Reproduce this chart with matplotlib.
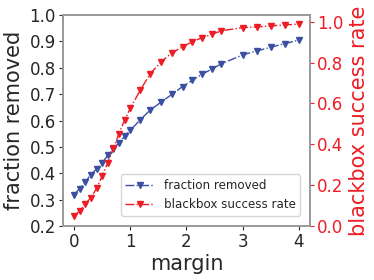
import matplotlib
matplotlib.use("Agg")
import matplotlib.pyplot as plt

# margin values (x)
margin = [0.0, 0.1, 0.2, 0.3, 0.4, 0.5, 0.6, 0.7, 0.8, 0.9, 1.0,
          1.18, 1.35, 1.55, 1.74, 1.93, 2.1, 2.27, 2.45, 2.62,
          3.0, 3.25, 3.5, 3.75, 4.0]

fraction_removed = [0.319, 0.342, 0.367, 0.395, 0.416, 0.44, 0.468, 0.493, 0.515, 0.54, 0.563,
                    0.603, 0.639, 0.67, 0.699, 0.729, 0.752, 0.775, 0.795, 0.815,
                    0.849, 0.864, 0.878, 0.892, 0.905]

blackbox_success = [0.049, 0.073, 0.108, 0.139, 0.184, 0.245, 0.31, 0.38, 0.453, 0.519, 0.576,
                    0.666, 0.744, 0.804, 0.848, 0.877, 0.902, 0.922, 0.939, 0.956,
                    0.972, 0.975, 0.98, 0.985, 0.989]

BLUE = "#3b4fa3"
RED = "#ee1c25"
TEXT = "#262626"

plt.rcParams["font.family"] = "DejaVu Sans"

fig = plt.figure(figsize=(3.74, 2.80), dpi=100)
ax = fig.add_axes([0.168, 0.193, 0.661, 0.753])
ax2 = ax.twinx()

l1, = ax.plot(margin, fraction_removed, linestyle="-.", marker="v", color=BLUE,
              markersize=4.8, linewidth=1.0, label="fraction removed")
l2, = ax2.plot(margin, blackbox_success, linestyle="-.", marker="v", color=RED,
               markersize=4.8, linewidth=1.0, label="blackbox success rate")

ax.set_xlim(-0.2, 4.2)
ax.set_ylim(0.2, 1.0)
ax2.set_ylim(0.0, 1.033)
ax.set_xticks([0, 1, 2, 3, 4])
ax.set_yticks([0.2, 0.3, 0.4, 0.5, 0.6, 0.7, 0.8, 0.9, 1.0])
ax2.set_yticks([0.0, 0.2, 0.4, 0.6, 0.8, 1.0])

ax.set_xlabel("margin", fontsize=15, color=TEXT, labelpad=2)
ax.set_ylabel("fraction removed", fontsize=15, color=TEXT, labelpad=4)
ax2.set_ylabel("blackbox success rate", fontsize=15, color=RED, labelpad=4)

ax.tick_params(axis="both", labelsize=12, colors=TEXT, length=3, pad=2)
ax2.tick_params(axis="y", labelsize=12, colors=RED, length=3, pad=2)

for a in (ax, ax2):
    for s in a.spines.values():
        s.set_color("#999999")
        s.set_linewidth(1.2)

leg = ax.legend(handles=[l1, l2], loc="lower right", fontsize=8.6,
                frameon=True, handlelength=2.4, borderpad=0.4,
                bbox_to_anchor=(0.985, 0.02))
leg.get_frame().set_edgecolor("#cccccc")
for t in leg.get_texts():
    t.set_color(TEXT)

fig.savefig("out.png", dpi=100)
